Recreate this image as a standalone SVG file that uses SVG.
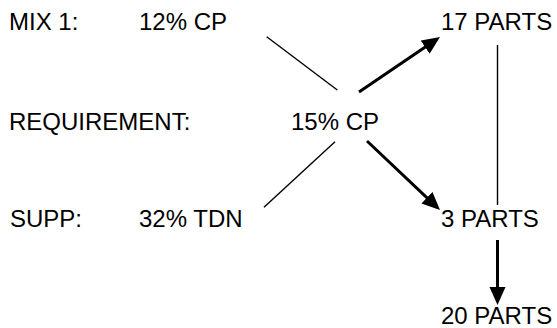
<svg xmlns="http://www.w3.org/2000/svg" width="557" height="328" viewBox="0 0 557 328">
<style>
text{font-family:"Liberation Sans",Arial,sans-serif;font-size:24px;fill:#000}
.thin{stroke:#000;stroke-width:1.4;fill:none}
.thick{stroke:#000;stroke-width:3;fill:none;marker-end:url(#ah)}
</style>
<defs>
<marker id="ah" markerUnits="userSpaceOnUse" markerWidth="20" markerHeight="18" refX="14" refY="8" orient="auto">
<path d="M0,0 L18,8 L0,16 Z" fill="#000"/>
</marker>
</defs>
<rect width="557" height="328" fill="#fff"/>
<g id="mix1-label"><text x="9" y="30">MIX 1:</text></g>
<g id="mix1-value"><text x="139" y="30">12% CP</text></g>
<g id="req-label"><text x="9" y="130">REQUIREMENT:</text></g>
<g id="req-value"><text x="291" y="130">15% CP</text></g>
<g id="supp-label"><text x="10" y="227">SUPP:</text></g>
<g id="supp-value"><text x="139" y="227">32% TDN</text></g>
<g id="parts17"><text x="441" y="30">17 PARTS</text></g>
<g id="parts3"><text x="441" y="227">3 PARTS</text></g>
<g id="parts20"><text x="441" y="324">20 PARTS</text></g>
<g id="connectors">
<line class="thin" x1="266.7" y1="36.7" x2="337.3" y2="90"/>
<line class="thin" x1="264" y1="207.3" x2="335" y2="141.7"/>
<line class="thin" x1="497.5" y1="45" x2="497.5" y2="205"/>
<line class="thick" x1="359" y1="92" x2="436.7" y2="39.2"/>
<line class="thick" x1="367" y1="141" x2="437.1" y2="207.3"/>
<line class="thick" x1="497.5" y1="240" x2="497.5" y2="301"/>
</g>
</svg>
